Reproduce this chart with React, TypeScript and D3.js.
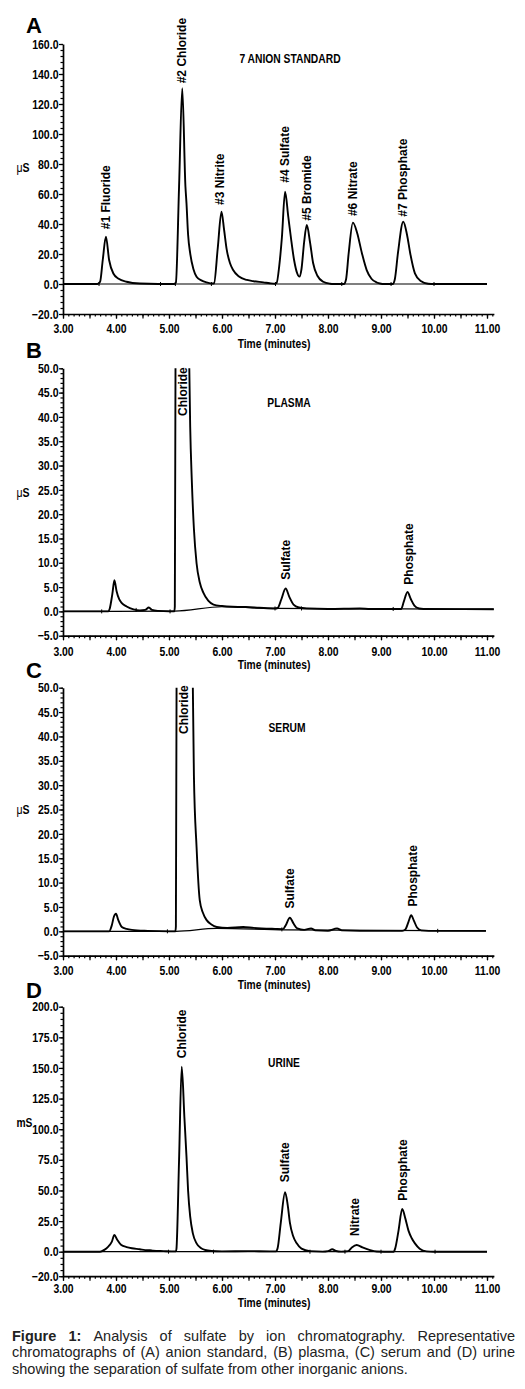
import { useEffect, useRef } from 'react';
import * as d3 from 'd3';

type Pt = [number, number];
type Label = [string, number, number];

// shared time axis (minutes)
const timeTicks = [3, 4, 5, 6, 7, 8, 9, 10, 11];

// A: 7 anion standard (µS)
const standardTicks = [-20, 0, 20, 40, 60, 80, 100, 120, 140, 160];
const standardTrace: Pt[] = [
  [3.0, 0], [3.65, 0], [3.7, 1.5], [3.75, 16], [3.81, 31.5], [3.87, 16], [3.95, 7], [4.05, 3.5],
  [4.2, 1.5], [4.45, 0.3], [4.8, 0], [5.1, 0],
  [5.13, 1], [5.19, 65], [5.25, 130.5], [5.31, 65], [5.33, 53.8], [5.36, 33], [5.4, 20.4],
  [5.46, 10], [5.52, 4.9], [5.62, 2.2], [5.71, 1.1], [5.82, 0.3],
  [5.85, 0.5], [5.92, 24], [5.99, 48.2], [6.04, 36], [6.09, 22.7], [6.15, 14], [6.21, 9.3],
  [6.32, 5], [6.47, 2.7], [6.6, 1.8], [6.78, 1.1], [6.9, 0.5], [7.0, 0.2],
  [7.03, 0.6], [7.08, 12], [7.13, 31], [7.19, 61.5], [7.25, 45], [7.3, 31], [7.36, 16],
  [7.42, 7], [7.46, 4.9],
  [7.5, 10], [7.55, 28], [7.6, 39.3], [7.66, 28], [7.72, 13.8], [7.8, 5.5], [7.91, 1.5],
  [8.04, 0.2], [8.1, 0],
  [8.3, 0], [8.34, 3], [8.39, 20.5], [8.47, 40.9], [8.55, 34], [8.64, 20.5], [8.73, 9.3],
  [8.82, 3.5], [8.92, 1], [9.0, 0.2], [9.05, 0],
  [9.22, 0], [9.26, 3], [9.32, 20.7], [9.42, 41.5], [9.49, 33], [9.55, 20.7], [9.64, 7.1],
  [9.75, 2], [9.89, 0.2], [10.0, 0], [11.0, 0],
];
const standardBase: Pt[] = [[3.0, 0], [11.0, 0]];
const standardMarks: Pt[] = [[3.68, 0], [4.84, 0], [5.12, 0], [5.8, 0], [7.01, 0], [8.26, 0], [9.19, 0], [10.0, 0]];
const standardLabels: Label[] = [
  ['#1 Fluoride', 3.81, 36.5], ['#2 Chloride', 5.24, 133.8], ['#3 Nitrite', 5.96, 52.7],
  ['#4 Sulfate', 7.19, 67.5], ['#5 Bromide', 7.6, 42.2], ['#6 Nitrate', 8.47, 45.3],
  ['#7 Phosphate', 9.41, 44.9],
];

// B: plasma (µS)
const plasmaTicks = [-5, 0, 5, 10, 15, 20, 25, 30, 35, 40, 45, 50];
const plasmaTrace: Pt[] = [
  [3.0, 0], [3.85, 0], [3.88, 0.5], [3.93, 3.5], [3.97, 6.4], [4.01, 4.2], [4.06, 2.5],
  [4.11, 1.7], [4.2, 1.0], [4.33, 0.4], [4.45, 0.2], [4.55, 0.3], [4.62, 0.8], [4.68, 0.3],
  [4.8, 0.1], [5.0, 0], [5.1, 0],
  [5.11, 1], [5.125, 60], [5.25, 150], [5.37, 60], [5.4, 38], [5.43, 27], [5.47, 17],
  [5.52, 9.9], [5.58, 6], [5.65, 3.8], [5.74, 2.2], [5.84, 1.4], [6.0, 1.1], [6.09, 1.0],
  [6.3, 0.9], [6.45, 0.9], [6.7, 0.75], [7.0, 0.6],
  [7.05, 0.7], [7.12, 2.5], [7.2, 4.7], [7.27, 3], [7.35, 1.4], [7.45, 0.8], [7.6, 0.6],
  [8.0, 0.5], [8.6, 0.6], [8.8, 0.5],
  [9.38, 0.5], [9.43, 2], [9.5, 4.0], [9.56, 2.6], [9.63, 1.2], [9.72, 0.6], [9.8, 0.5],
  [11.13, 0.45],
];
const plasmaBase: Pt[] = [[3.0, 0], [5.11, 0.05], [6.0, 0.95], [7.0, 0.6], [9.4, 0.5], [11.13, 0.45]];
const plasmaMarks: Pt[] = [[3.73, 0], [4.38, 0.3], [5.02, 0], [7.0, 0.6], [7.5, 0.6], [9.23, 0.5]];
const plasmaLabels: Label[] = [['Chloride', 5.25, 40.2], ['Sulfate', 7.2, 6.5], ['Phosphate', 9.53, 5.5]];

// C: serum (µS)
const serumTicks = [-5, 0, 5, 10, 15, 20, 25, 30, 35, 40, 45, 50];
const serumTrace: Pt[] = [
  [3.0, 0], [3.87, 0], [3.92, 1.2], [3.96, 3.0], [4.0, 3.6], [4.04, 2.4], [4.11, 0.9],
  [4.2, 0.5], [4.3, 0.3], [4.6, 0.1], [5.0, 0], [5.12, 0],
  [5.13, 1], [5.145, 60], [5.3, 150], [5.44, 60], [5.47, 32], [5.52, 17.3], [5.58, 6.4],
  [5.64, 3.8], [5.71, 2.3], [5.8, 1.4], [5.9, 0.9], [6.1, 0.7], [6.4, 0.9], [6.6, 0.7],
  [7.0, 0.5], [7.15, 0.45],
  [7.2, 1.2], [7.28, 2.8], [7.35, 1.6], [7.42, 0.6], [7.55, 0.3], [7.68, 0.6], [7.76, 0.2],
  [8.0, 0.1], [8.17, 0.6], [8.26, 0.2], [8.6, 0.1], [9.0, 0.1], [9.4, 0.1],
  [9.46, 0.4], [9.52, 2.0], [9.57, 3.3], [9.62, 2.2], [9.68, 0.8], [9.76, 0.2], [9.9, 0.1],
  [10.98, 0.1],
];
const serumBase: Pt[] = [[3.0, 0], [5.13, 0], [5.9, 0.6], [7.2, 0.3], [10.98, 0.1]];
const serumMarks: Pt[] = [[4.97, 0], [7.13, 0.4], [10.07, 0.1]];
const serumLabels: Label[] = [['Chloride', 5.28, 40.5], ['Sulfate', 7.28, 4.7], ['Phosphate', 9.59, 5.1]];

// D: urine (mS)
const urineTicks = [-20, 0, 25, 50, 75, 100, 125, 150, 175, 200];
const urineTrace: Pt[] = [
  [3.0, 0], [3.7, 0], [3.78, 1.5], [3.85, 4], [3.92, 8], [3.97, 13.6], [4.02, 10], [4.1, 5.5],
  [4.2, 3.8], [4.3, 2.8], [4.45, 2], [4.55, 1.3], [4.64, 1.2], [4.7, 0.8], [4.9, 0.5],
  [5.05, 0.3], [5.13, 0.3],
  [5.14, 2], [5.19, 75], [5.24, 151], [5.29, 110], [5.33, 77.6], [5.36, 50], [5.4, 28.6],
  [5.45, 15], [5.52, 6.8], [5.6, 3], [5.68, 1.4], [5.8, 0.6], [6.0, 0.3], [6.5, 0.5],
  [6.9, 0.3], [7.02, 0.3],
  [7.05, 3], [7.11, 24], [7.19, 48.5], [7.24, 38], [7.28, 24], [7.34, 13], [7.41, 6.8],
  [7.5, 2.5], [7.66, 0.5], [7.9, 0.1], [8.0, 0.5], [8.08, 2], [8.15, 0.6], [8.25, 0.1],
  [8.38, 0.5], [8.45, 3.5], [8.54, 5.5], [8.65, 3.5], [8.78, 1.5], [8.92, 0.2], [9.2, 0],
  [9.24, 0], [9.27, 3], [9.33, 17], [9.4, 34.8], [9.46, 27], [9.52, 17], [9.58, 11],
  [9.64, 6.8], [9.73, 2.5], [9.86, 0.3], [10.0, 0], [11.0, 0],
];
const urineBase: Pt[] = [[3.0, 0], [11.0, 0]];
const urineMarks: Pt[] = [[4.99, 0], [5.84, 0], [7.66, 0], [8.32, 0], [9.0, 0], [10.02, 0]];
const urineLabels: Label[] = [
  ['Chloride', 5.23, 157.9], ['Sulfate', 7.19, 56.7], ['Nitrate', 8.51, 12.8], ['Phosphate', 9.41, 41.6],
];

const captionLines = [
  'Figure 1: Analysis of sulfate by ion chromatography. Representative',
  'chromatographs of (A) anion standard, (B) plasma, (C) serum and (D) urine',
  'showing the separation of sulfate from other inorganic anions.',
];

const panels = [
  { id: 'A', title: '7 ANION STANDARD', unit: 'μS', trace: standardTrace, base: standardBase, marks: standardMarks,
    labels: standardLabels, yTicks: standardTicks, minor: 4, top: 44, bottom: 314,
    letterY: 33, titleX: 290, titleY: 63, unitY: 172, tickDy: 18.5, timeDy: 33.5, end: 11.13 },
  { id: 'B', title: 'PLASMA', unit: 'μS', trace: plasmaTrace, base: plasmaBase, marks: plasmaMarks,
    labels: plasmaLabels, yTicks: plasmaTicks, minor: 1, top: 368.3, bottom: 635.7,
    letterY: 358, titleX: 289, titleY: 407, unitY: 497, tickDy: 19.5, timeDy: 33.5, end: 11.13 },
  { id: 'C', title: 'SERUM', unit: 'μS', trace: serumTrace, base: serumBase, marks: serumMarks,
    labels: serumLabels, yTicks: serumTicks, minor: 1, top: 687.7, bottom: 955.7,
    letterY: 678, titleX: 287, titleY: 732, unitY: 814, tickDy: 18.5, timeDy: 33, end: 11.13 },
  { id: 'D', title: 'URINE', unit: 'mS', trace: urineTrace, base: urineBase, marks: urineMarks,
    labels: urineLabels, yTicks: urineTicks, minor: 5, top: 1006.7, bottom: 1276.2,
    letterY: 998, titleX: 284, titleY: 1067, unitY: 1126.7, tickDy: 16.5, timeDy: 30.5, end: 11.13 },
];

const sans = "'Liberation Sans', Arial, Helvetica, sans-serif";

export default function App() {
  const svgRef = useRef<SVGSVGElement>(null);

  useEffect(() => {
    if (!svgRef.current) return;
    const svg = d3.select(svgRef.current);
    svg.selectAll('*').remove();

    const ctx = document.createElement('canvas').getContext('2d')!;
    // the figure uses a narrow bold face; squeeze Liberation Sans Bold to fit
    const squeeze = (sel: d3.Selection<any, any, any, any>, size: number, factor: number) => {
      sel.attr('font-family', sans).attr('font-weight', 'bold').attr('font-size', size).attr('fill', '#000')
        .each(function () {
          const t = this as SVGTextElement;
          ctx.font = `bold ${size}px 'Liberation Sans', Arial, sans-serif`;
          const w = ctx.measureText(t.textContent || '').width * factor;
          t.setAttribute('textLength', String(w));
          t.setAttribute('lengthAdjust', 'spacingAndGlyphs');
        });
    };

    const x = d3.scaleLinear().domain([3, 11]).range([63, 487]);

    panels.forEach((p) => {
      const y0 = p.yTicks[0];
      const y1 = p.yTicks[p.yTicks.length - 1];
      const y = d3.scaleLinear().domain([y0, y1]).range([p.bottom, p.top]);
      const g = svg.append('g');

      const clipId = `clip-${p.id}`;
      g.append('clipPath').attr('id', clipId).append('rect')
        .attr('x', x(3)).attr('y', p.top)
        .attr('width', x(p.end) - x(3)).attr('height', p.bottom - p.top);

      // y axis, minor ticks then major
      g.append('g').attr('transform', `translate(${x(3)},0)`)
        .call(d3.axisLeft(y).tickValues(d3.range(y0, y1 + 1e-6, p.minor)).tickSize(2.5).tickFormat(() => ''))
        .call((a) => a.select('.domain').remove());
      const ya = g.append('g').attr('transform', `translate(${x(3)},0)`)
        .call(d3.axisLeft(y).tickValues(p.yTicks).tickSize(4).tickSizeOuter(0).tickPadding(0.5)
          .tickFormat((d) => d3.format('.1f')(d as number)));
      squeeze(ya.selectAll('text'), 13, 0.81);

      // x axis
      const xa = x.copy().domain([3, p.end]).range([x(3), x(p.end)]);
      const xBase = g.append('g').attr('transform', `translate(0,${p.bottom})`);
      xBase.append('g')
        .call(d3.axisBottom(xa).tickValues(d3.range(30, 112).map((d) => d / 10)).tickSize(2.5).tickFormat(() => ''))
        .call((a) => a.select('.domain').remove());
      xBase.append('g')
        .call(d3.axisBottom(xa).tickValues(d3.range(6, 23).map((d) => d / 2)).tickSize(4.5).tickFormat(() => ''))
        .call((a) => a.select('.domain').remove());
      const xt = xBase.append('g')
        .call(d3.axisBottom(xa).tickValues(timeTicks).tickSize(4.5).tickSizeOuter(0)
          .tickFormat((d) => d3.format('.2f')(d as number)));
      xt.selectAll('text').attr('y', p.tickDy + 0.5).attr('dy', 0);
      squeeze(xt.selectAll('text'), 13, 0.8);

      g.selectAll('.domain').attr('stroke-width', 1.7);
      g.selectAll('.tick line').attr('stroke-width', 1.2);

      // traces
      const line = d3.line<Pt>().x((d) => x(d[0])).y((d) => y(d[1])).curve(d3.curveMonotoneX);
      g.append('path').datum(p.base).attr('d', line).attr('fill', 'none')
        .attr('stroke', '#000').attr('stroke-width', 1.2).attr('clip-path', `url(#${clipId})`);
      g.append('path').datum(p.trace).attr('d', line).attr('fill', 'none')
        .attr('stroke', '#000').attr('stroke-width', 1.9).attr('stroke-linejoin', 'round')
        .attr('clip-path', `url(#${clipId})`);

      g.selectAll('.mark').data(p.marks).join('line')
        .attr('x1', (d) => x(d[0])).attr('x2', (d) => x(d[0]))
        .attr('y1', (d) => y(d[1]) - 2).attr('y2', (d) => y(d[1]) + 2)
        .attr('stroke', '#000').attr('stroke-width', 1);

      // peak names
      g.selectAll('.peak').data(p.labels).join('text')
        .attr('transform', (d) => `translate(${x(d[1])},${y(d[2])}) rotate(-90)`)
        .attr('dy', '0.36em')
        .attr('font-family', sans).attr('font-weight', 'bold').attr('font-size', 12)
        .text((d) => d[0]);

      g.append('text').attr('x', 26).attr('y', p.letterY)
        .attr('font-family', sans).attr('font-weight', 'bold').attr('font-size', 22).text(p.id);

      squeeze(g.append('text').attr('x', p.titleX).attr('y', p.titleY).attr('text-anchor', 'middle').text(p.title), 12.5, 0.82);

      const u = g.append('text').attr('x', 16.5).attr('y', p.unitY);
      u.append('tspan').attr('font-weight', p.unit === 'mS' ? 'bold' : 'normal').text(p.unit[0]);
      u.append('tspan').text(p.unit.slice(1));
      squeeze(u, 12.5, 0.82);

      squeeze(g.append('text').attr('x', 274).attr('y', p.bottom + p.timeDy).attr('text-anchor', 'middle')
        .text('Time (minutes)'), 12.5, 0.82);
    });

    // caption, first two lines justified
    const capSize = 14.5;
    const capLeft = 12;
    const capWidth = 503;
    const font = (b: boolean) => `${b ? 'bold ' : ''}${capSize}px 'Liberation Sans', Arial, sans-serif`;
    const cap = svg.append('g').attr('fill', '#222').attr('font-family', sans).attr('font-size', capSize);
    captionLines.forEach((ln, li) => {
      const words = ln.split(' ').map((w, wi) => ({ w, b: li === 0 && wi < 2 }));
      const widths = words.map((d) => { ctx.font = font(d.b); return ctx.measureText(d.w).width; });
      ctx.font = font(false);
      const space = ctx.measureText(' ').width;
      const total = d3.sum(widths);
      const gap = li < 2 ? (capWidth - total) / (words.length - 1) : space;
      let cx = capLeft;
      words.forEach((d, i) => {
        cap.append('text').attr('x', cx).attr('y', 1340.5 + li * 16.7)
          .attr('font-weight', d.b ? 'bold' : 'normal').text(d.w);
        cx += widths[i] + gap;
      });
    });
  }, []);

  return (
    <svg
      ref={svgRef}
      width={525}
      height={1389}
      style={{ position: 'absolute', left: 0, top: 0, background: '#fff' }}
    />
  );
}
